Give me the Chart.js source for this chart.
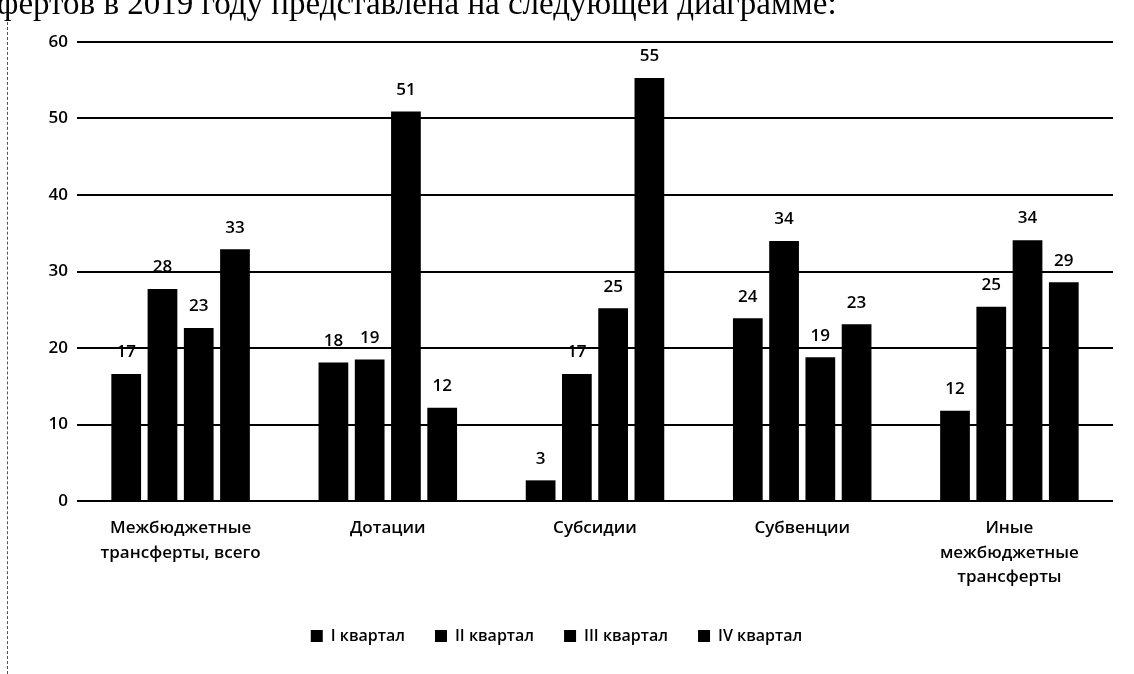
<!DOCTYPE html>
<html lang="ru">
<head>
    <meta charset="UTF-8">
    <title>Межбюджетные трансферты</title>
    <style>
        body {
            margin: 0;
            padding: 0;
            background: #fff;
            overflow: hidden;
        }
        .wrap {
            position: relative;
            width: 1134px;
            height: 674px;
        }
        .caption {
            position: absolute;
            top: -15px;
            left: -3px;
            font-family: "Liberation Serif", "DejaVu Serif", serif;
            font-size: 33px;
            color: #000;
            white-space: nowrap;
            z-index: 2;
        }
        .edge {
            position: absolute;
            left: 7px;
            top: 22px;
            height: 652px;
            border-left: 1px dashed #555;
        }
        canvas {
            position: absolute;
            top: 0;
            left: 0;
        }
    </style>
</head>
<body>
<div class="wrap">
    <div class="caption">фертов в 2019 году представлена на следующей диаграмме:</div>
    <div class="edge"></div>
    <canvas id="chart" width="1134" height="674"></canvas>
</div>

<script src="https://cdn.jsdelivr.net/npm/chart.js"></script>
<script>
    const categories = [
        ['Межбюджетные', 'трансферты, всего'],
        'Дотации',
        'Субсидии',
        'Субвенции',
        ['Иные', 'межбюджетные', 'трансферты']
    ];
    const seriesNames = ['I квартал', 'II квартал', 'III квартал', 'IV квартал'];
    const q1 = [16.6, 18.1, 2.7, 23.9, 11.8];
    const q2 = [27.7, 18.5, 16.6, 34.0, 25.4];
    const q3 = [22.6, 50.9, 25.2, 18.8, 34.1];
    const q4 = [32.9, 12.2, 55.3, 23.1, 28.6];
    const yTicks = [0, 10, 20, 30, 40, 50, 60];

    const font = '"Open Sans", "Noto Sans", sans-serif';

    // value labels above each bar
    const barLabels = {
        id: 'barLabels',
        afterDatasetsDraw(chart) {
            const ctx = chart.ctx;
            ctx.save();
            ctx.fillStyle = '#000';
            ctx.font = '600 17px ' + font;
            ctx.textAlign = 'center';
            ctx.textBaseline = 'bottom';
            chart.data.datasets.forEach((ds, i) => {
                chart.getDatasetMeta(i).data.forEach((bar, j) => {
                    ctx.fillText(Math.round(ds.data[j]), bar.x, bar.y - 13);
                });
            });
            ctx.restore();
        }
    };

    const seriesData = [q1, q2, q3, q4];

    new Chart(document.getElementById('chart'), {
        type: 'bar',
        data: {
            labels: categories,
            datasets: seriesNames.map((name, i) => ({
                label: name,
                data: seriesData[i],
                backgroundColor: '#000',
                borderWidth: 0,
                categoryPercentage: 0.7,
                barPercentage: 0.82
            }))
        },
        options: {
            responsive: false,
            animation: false,
            layout: {
                padding: { top: 42, right: 21, left: 0, bottom: 20 }
            },
            scales: {
                x: {
                    grid: { display: false },
                    border: { display: false },
                    ticks: {
                        color: '#000',
                        font: { family: font, size: 17, weight: '600', lineHeight: 1.45 },
                        padding: 7,
                        maxRotation: 0
                    },
                    afterFit(scale) { scale.height = 97; }
                },
                y: {
                    min: 0,
                    max: 60,
                    afterBuildTicks(scale) {
                        scale.ticks = yTicks.map(v => ({ value: v }));
                    },
                    grid: {
                        color: '#000',
                        lineWidth: 2,
                        drawTicks: false
                    },
                    border: { display: false },
                    ticks: {
                        color: '#000',
                        font: { family: font, size: 17, weight: '600' },
                        padding: 9
                    },
                    afterFit(scale) { scale.width = 77; }
                }
            },
            plugins: {
                legend: {
                    position: 'bottom',
                    labels: {
                        color: '#000',
                        font: { family: font, size: 16, weight: '600' },
                        boxWidth: 12,
                        boxHeight: 12,
                        padding: 30
                    }
                },
                tooltip: { enabled: false }
            }
        },
        plugins: [barLabels]
    });
</script>
</body>
</html>
